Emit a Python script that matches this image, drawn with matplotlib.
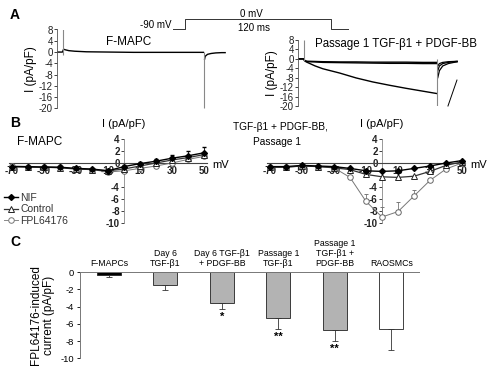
import matplotlib
matplotlib.use("Agg")
import matplotlib.pyplot as plt
from matplotlib.lines import Line2D

plt.rcParams['font.family'] = ['Liberation Sans', 'DejaVu Sans']

W, H = 493, 372
fig = plt.figure(figsize=(W / 100, H / 100), dpi=100)


def px_axes(x0, y_top, x1, y_bot):
    return fig.add_axes([x0 / W, 1 - y_bot / H, (x1 - x0) / W, (y_bot - y_top) / H])


# ---------------- Data: panel A (whole-cell current traces) ----------------
a_left_t = [-5, -0.5, 0.5, 2, 5, 10, 20, 40, 60, 80, 100, 119.5]
a_left_i = [0, 0, 1.0, 0.8, 0.5, 0.3, 0.1, 0.0, -0.1, -0.1, -0.1, -0.1]
a_left_tail_t = [120.5, 121, 123, 126, 130, 135, 138]
a_left_tail_i = [-2.5, -1.5, -0.8, -0.5, -0.3, -0.2, -0.2]

a_right_t = [-5, -0.5, 1, 3, 10, 17, 32, 47, 62, 77, 92, 107, 119.5]
a_right_fpl = [0, 0, -1.0, -1.5, -3.0, -4.2, -6.0, -8.1, -9.8, -11.2, -12.5, -13.7, -14.7]
a_right_ctrl = [0, 0, -1.0, -1.2, -1.3, -1.5, -1.6, -1.7, -1.8, -1.9, -1.9, -2.0, -2.0]
a_right_nif = [0, 0, -0.8, -1.0, -1.1, -1.2, -1.3, -1.3, -1.4, -1.4, -1.4, -1.5, -1.5]
a_right_tail_t = [120.5, 122, 125, 130, 135, 138]
a_right_fpl_tail = [-8, -5, -3, -2, -1.5, -1.3]
a_right_ctrl_tail = [-5, -3, -2, -1.5, -1.2, -1.1]
a_right_nif_tail = [-3, -2, -1.5, -1.2, -1.1, -1.0]
a_artifact_t = [129.7, 137.8]
a_artifact_i = [-20, -9]

a_yticks = [8, 4, 0, -4, -8, -12, -16, -20]

prot_t = [-10, 0, 0, 120, 120, 134]
prot_v = [-90, -90, 0, 0, -90, -90]

# ---------------- Data: panel B (I-V relations) ----------------
mv = [-70, -60, -50, -40, -30, -20, -10, 0, 10, 20, 30, 40, 50]
b_left_nif = [-0.6, -0.6, -0.7, -0.7, -0.9, -1.0, -1.3, -0.6, -0.1, 0.3, 0.8, 1.2, 1.7]
b_left_ctrl = [-0.6, -0.7, -0.7, -0.8, -1.0, -1.1, -1.3, -1.0, -0.5, 0.0, 0.5, 0.9, 1.4]
b_left_fpl = [-0.5, -0.6, -0.6, -0.7, -1.0, -1.1, -1.5, -1.3, -0.9, -0.5, 0.0, 0.6, 1.1]
b_left_nif_err = [0, 0, 0, 0, 0, 0, 0.3, 0.3, 0.3, 0.3, 0.5, 0.8, 0.9]
b_left_fpl_err = [0, 0, 0, 0, 0, 0, 0.3, 0, 0, 0, 0, 0, 0]

b_right_nif = [-0.6, -0.6, -0.4, -0.5, -0.6, -0.9, -1.3, -1.4, -1.3, -0.9, -0.5, 0.0, 0.4]
b_right_ctrl = [-0.7, -0.7, -0.5, -0.6, -0.8, -1.1, -1.9, -2.3, -2.4, -2.2, -1.4, -0.4, 0.2]
b_right_fpl = [-0.7, -0.7, -0.5, -0.6, -0.8, -2.4, -6.4, -9.0, -8.1, -5.5, -2.9, -1.0, 0.0]
b_right_fpl_err = [0, 0, 0, 0, 0, 0.2, 1.3, 1.6, 1.6, 1.0, 0.4, 0, 0]

b_xticks = [-70, -50, -30, -10, 10, 30, 50]
b_yticks = [4, 2, 0, -4, -6, -8, -10]

# ---------------- Data: panel C (bar chart) ----------------
c_labels = ['F-MAPCs', 'Day 6\nTGF-β1', 'Day 6 TGF-β1\n+ PDGF-BB', 'Passage 1\nTGF-β1',
            'Passage 1\nTGF-β1 +\nPDGF-BB', 'RAOSMCs']
c_values = [-0.38, -1.55, -3.65, -5.35, -6.7, -6.65]
c_errors = [0.22, 0.55, 0.65, 1.25, 1.3, 2.35]
c_stars = ['', '', '*', '**', '**', '']
c_colors = ['black', '#b3b3b3', '#b3b3b3', '#b3b3b3', '#b3b3b3', 'white']
c_yticks = [0, -2, -4, -6, -8, -10]


# ---------------- Panel A ----------------
def style_a(ax):
    for s in ['top', 'right', 'bottom']:
        ax.spines[s].set_visible(False)
    ax.spines['left'].set_linewidth(0.6)
    ax.spines['left'].set_color('#555555')
    ax.set_ylim(-20, 8)
    ax.set_yticks(a_yticks)
    ax.set_yticklabels([str(v) for v in a_yticks])
    ax.tick_params(axis='y', length=2, width=0.6, pad=1, labelsize=7, colors='#222222')
    ax.set_xticks([])
    ax.set_ylabel('I (pA/pF)', fontsize=8.5, labelpad=1)


axA1 = px_axes(57, 29.5, 227.5, 108.5)
axA1.set_xlim(-5.1, 140)
style_a(axA1)
axA1.plot(a_left_t, a_left_i, color='black', lw=1.0)
axA1.plot(a_left_tail_t, a_left_tail_i, color='black', lw=1.0)
axA1.vlines([0], [-1], [8], color='#888888', lw=0.8)
axA1.vlines([120], [-20], [0], color='#888888', lw=0.8)
axA1.text(0.42, 0.84, 'F-MAPC', transform=axA1.transAxes, fontsize=8.5, ha='center', va='center')

axA2 = px_axes(298, 40, 459.4, 106)
axA2.set_xlim(-5.4, 140)
style_a(axA2)
for vals, tail in [(a_right_fpl, a_right_fpl_tail), (a_right_ctrl, a_right_ctrl_tail),
                   (a_right_nif, a_right_nif_tail)]:
    axA2.plot(a_right_t, vals, color='black', lw=1.0)
    axA2.plot(a_right_tail_t, tail, color='black', lw=0.9)
axA2.vlines([0], [-1], [8], color='#888888', lw=0.8)
axA2.vlines([120], [-20], [0], color='#888888', lw=0.8)
axA2.plot(a_artifact_t, a_artifact_i, color='black', lw=0.7, clip_on=False)
fig.text(396 / W, 1 - 44 / H, 'Passage 1 TGF-β1 + PDGF-BB', fontsize=8.3, ha='center', va='center')

# voltage protocol
axP = px_axes(173, 19, 348, 29)
axP.set_xlim(-10, 134)
axP.set_ylim(-90, 0)
axP.axis('off')
axP.plot(prot_t, prot_v, color='#333333', lw=0.7, clip_on=False)
fig.text(172 / W, 1 - 25 / H, '-90 mV', fontsize=7, ha='right', va='center')
fig.text(251 / W, 1 - 14 / H, '0 mV', fontsize=7, ha='center', va='center')
fig.text(254 / W, 1 - 28 / H, '120 ms', fontsize=7, ha='center', va='center')


# ---------------- Panel B ----------------
def style_b(ax):
    ax.spines['left'].set_position(('data', 0))
    ax.spines['bottom'].set_position(('data', 0))
    ax.spines['top'].set_visible(False)
    ax.spines['right'].set_visible(False)
    ax.spines['left'].set_bounds(-10, 4)
    ax.spines['left'].set_color('#888888')
    ax.spines['bottom'].set_color('#444444')
    ax.spines['left'].set_linewidth(0.6)
    ax.spines['bottom'].set_linewidth(0.8)
    ax.set_xlim(-72, 52)
    ax.set_ylim(-10.2, 4.2)
    ax.set_xticks(b_xticks)
    ax.set_xticklabels([str(v) for v in b_xticks], fontweight='bold')
    ax.set_xticks(mv, minor=True)
    ax.set_yticks(b_yticks)
    ax.set_yticklabels([str(v) for v in b_yticks], fontweight='bold')
    ax.tick_params(axis='both', which='both', length=2, width=0.6, labelsize=7, pad=1,
                   colors='#222222')
    ax.tick_params(axis='x', which='minor', length=0)
    ax.tick_params(axis='x', length=0, pad=2)
    ax.text(0, 6.5, 'I (pA/pF)', fontsize=8, ha='center', va='center', clip_on=False)
    ax.text(55, -0.4, 'mV', fontsize=8, ha='left', va='center', clip_on=False)


def iv_lines(ax, nif, ctrl, fpl, nif_err, fpl_err):
    ax.errorbar(mv, fpl, yerr=[[0] * len(mv), fpl_err], color='#777777', lw=0.7, marker='o',
                ms=4, mfc='white', mec='#666666', mew=0.7, capsize=1.5, elinewidth=0.6,
                zorder=3, clip_on=False)
    ax.plot(mv, ctrl, color='#333333', lw=0.9, marker='^', ms=4, mfc='white', mec='#222222',
            mew=0.7, zorder=4, clip_on=False)
    ax.errorbar(mv, nif, yerr=[[0] * len(mv), nif_err], color='black', lw=1.0, marker='D',
                ms=3, mfc='black', mec='black', capsize=1.5, elinewidth=0.6, zorder=5,
                clip_on=False)


axB1 = px_axes(124 - 72 * 1.6, 137.8, 124 + 52 * 1.6, 224.2)
style_b(axB1)
iv_lines(axB1, b_left_nif, b_left_ctrl, b_left_fpl, b_left_nif_err, b_left_fpl_err)
fig.text(40 / W, 1 - 142 / H, 'F-MAPC', fontsize=8.5, ha='center', va='center')

handles = [
    Line2D([], [], color='black', lw=1.0, marker='D', ms=3, mfc='black'),
    Line2D([], [], color='#333333', lw=0.9, marker='^', ms=4, mfc='white', mec='#222222', mew=0.7),
    Line2D([], [], color='#888888', lw=0.7, marker='o', ms=4, mfc='white', mec='#777777', mew=0.7),
]
axB1.legend(handles, ['NIF', 'Control', 'FPL64176'], loc='upper left',
            bbox_to_anchor=(4 / W, 1 - 193 / H), bbox_transform=fig.transFigure, frameon=False,
            fontsize=7.5, handlelength=1.3, handletextpad=0.25, labelspacing=0.12, borderpad=0,
            borderaxespad=0, labelcolor='#333333')

axB2 = px_axes(382 - 72 * 1.6, 137.8, 382 + 52 * 1.6, 224.2)
style_b(axB2)
iv_lines(axB2, b_right_nif, b_right_ctrl, b_right_fpl, [0] * len(mv), b_right_fpl_err)
fig.text(233 / W, 1 - 127.5 / H, 'TGF-β1 + PDGF-BB,', fontsize=7.3, ha='left', va='center')
fig.text(253 / W, 1 - 142 / H, 'Passage 1', fontsize=7.3, ha='left', va='center')

# ---------------- Panel C ----------------
axC = px_axes(80, 272, 419, 358.3)
xs = list(range(len(c_values)))
axC.bar(xs, c_values, width=0.42, color=c_colors, edgecolor='#222222', linewidth=0.6, zorder=2)
axC.errorbar(xs, c_values, yerr=[c_errors, [0] * len(xs)], fmt='none', ecolor='#333333',
             elinewidth=0.6, capsize=2.5, capthick=0.6, zorder=3)
for x, v, e, s in zip(xs, c_values, c_errors, c_stars):
    if s:
        axC.annotate(s, xy=(x, v - e), xytext=(0, -2), textcoords='offset points', ha='center',
                     va='top', fontsize=8, fontweight='bold')
axC.set_xlim(-0.51, 5.49)
axC.set_ylim(-10, 0)
axC.spines['right'].set_visible(False)
axC.spines['bottom'].set_visible(False)
axC.spines['top'].set_color('#777777')
axC.spines['left'].set_color('#777777')
axC.spines['top'].set_linewidth(0.7)
axC.spines['left'].set_linewidth(0.7)
axC.xaxis.tick_top()
axC.set_xticks(xs)
axC.set_xticklabels(c_labels, fontsize=6.3, linespacing=1.15)
axC.tick_params(axis='x', length=0, pad=3)
axC.set_yticks(c_yticks)
axC.set_yticklabels([str(v) for v in c_yticks])
axC.tick_params(axis='y', length=2.5, width=0.6, labelsize=6.8, pad=2)
axC.set_ylabel('FPL64176-induced\ncurrent (pA/pF)', fontsize=8.5, labelpad=4, linespacing=1.1)

# panel letters
fig.text(10 / W, 1 - 15 / H, 'A', fontsize=10, fontweight='bold', ha='left', va='center')
fig.text(10 / W, 1 - 123 / H, 'B', fontsize=10, fontweight='bold', ha='left', va='center')
fig.text(10 / W, 1 - 242 / H, 'C', fontsize=10, fontweight='bold', ha='left', va='center')

fig.savefig('out.png', dpi=100)
